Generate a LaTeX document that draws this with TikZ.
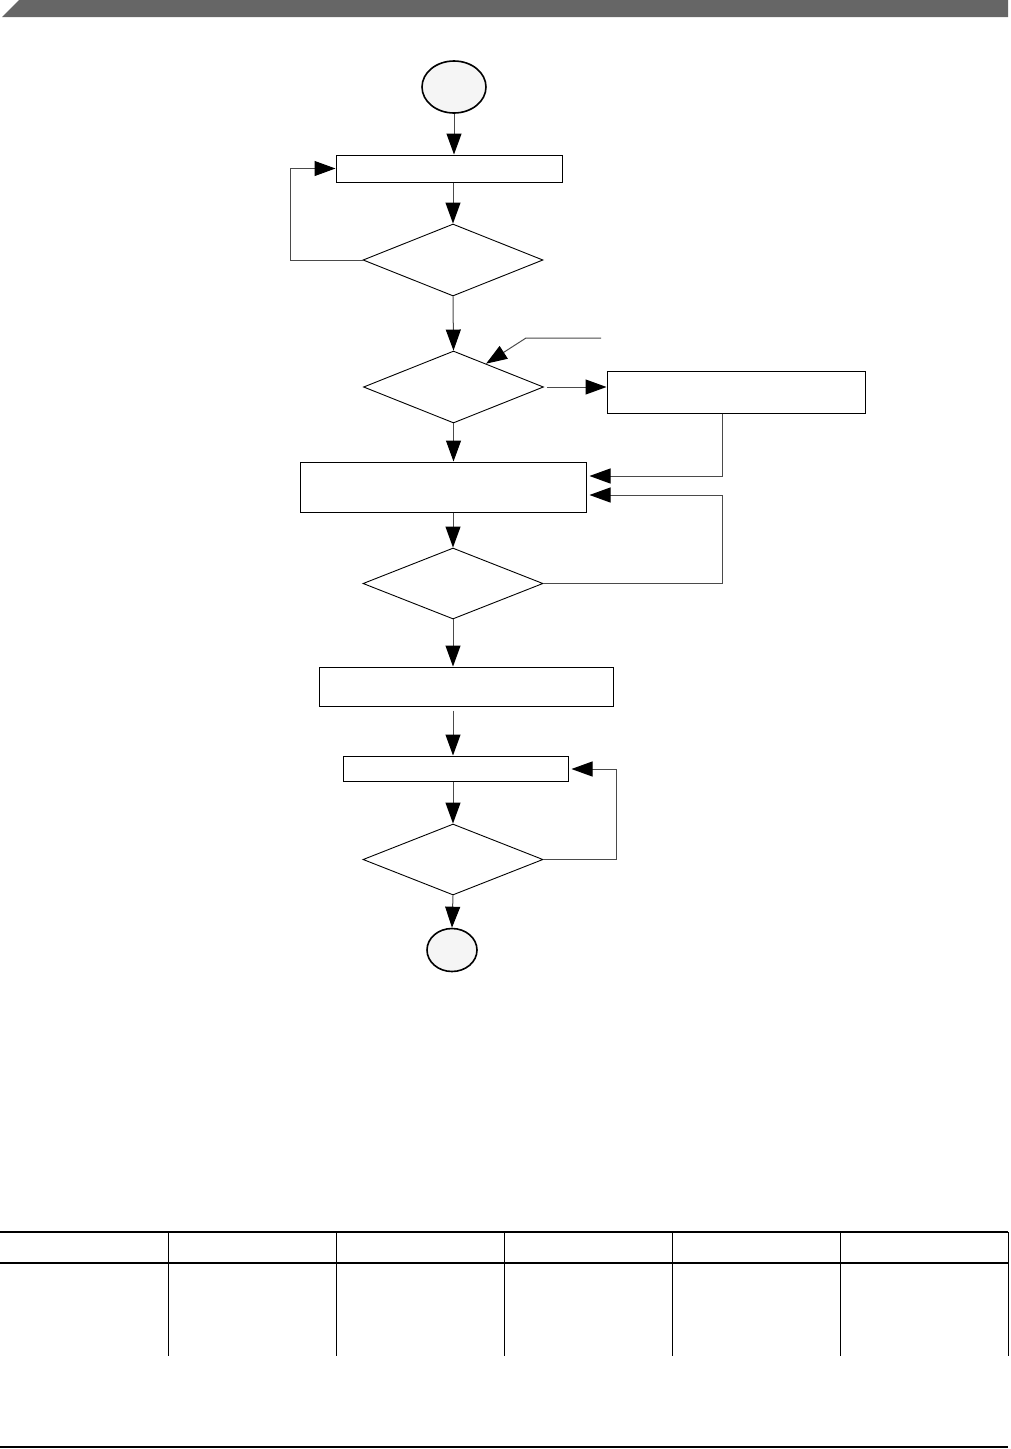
\documentclass[tikz,border=0pt]{standalone}
\usepackage{tikz}
\usetikzlibrary{arrows.meta, shapes.geometric, positioning, calc}
\definecolor{band}{HTML}{666666}
\definecolor{wire}{HTML}{4A4A4A}
\definecolor{cap}{HTML}{F5F5F5}

\begin{document}
\begin{tikzpicture}[
  x=1pt, y=-1pt,
  proc/.style={draw, line width=1pt, rectangle, inner sep=0pt},
  test/.style={draw, line width=0.9pt, diamond, inner sep=0pt,
               minimum width=180pt, minimum height=72pt},
  term/.style={draw, line width=1.6pt, ellipse, fill=cap, inner sep=0pt},
  arrow/.style={-{Triangle[length=21pt, width=15pt, color=black]}, line width=1pt, wire},
  rule/.style={line width=1.4pt, black}
]
  \useasboundingbox (0,0) rectangle (1010,1449);

  % page header band
  \fill[band] (19,0) -- (1008,0) -- (1008,17) -- (2,17) -- cycle;

  \node[term, minimum width=64pt, minimum height=52pt] (start) at (454,87) {};
  \node[proc, minimum width=226pt, minimum height=27pt] (b1) at (449,168.5) {};
  \node[test] (d1) at (453,260) {};
  \node[test] (d2) at (453.5,387) {};
  \node[proc, minimum width=258pt, minimum height=42pt] (b2) at (736,392) {};
  \node[proc, minimum width=286pt, minimum height=50pt] (b3) at (443,487) {};
  \node[test, minimum height=71pt] (d3) at (453,583.5) {};
  \node[proc, minimum width=294pt, minimum height=39pt] (b4) at (466,686.5) {};
  \node[proc, minimum width=225pt, minimum height=25pt] (b5) at (455.5,768.5) {};
  \node[test, minimum height=71pt] (d4) at (453,859.5) {};
  \node[term, minimum width=50pt, minimum height=43pt] (stop) at (452,950) {};

  \coordinate (ptr) at (601,338);
  \coordinate (r1) at (722,476);
  \coordinate (r2) at (722,495);
  \coordinate (r3) at (616,769);

  \draw[arrow] (start.south) -- (start.south |- b1.north);
  \draw[arrow] (d1.north |- b1.south) -- (d1.north);
  \draw[arrow] (d1.west) -- ++(-72,0) |- (b1.west);
  \draw[arrow] (d1.south) -- (d2.north);
  \draw[arrow] (ptr) -- ++(-75,0) -- ($(d2.north)!0.36!(d2.east)$);
  \draw[arrow, shorten <=3pt] (d2.east) -- (d2.east -| b2.west);
  \draw[arrow, shorten >=3pt] (b2.south -| r1) -- (r1) -- (r1 -| b3.east);
  \draw[arrow, shorten >=3pt] (d3.east) -| (r2) -- (r2 -| b3.east);
  \draw[arrow] (d2.south) -- (d2.south |- b3.north);
  \draw[arrow] (d3.north |- b3.south) -- (d3.north);
  \draw[arrow] (d3.south) -- (d3.south |- b4.north);
  \draw[arrow, shorten <=4pt] (d4.north |- b4.south) -- (d4.north |- b5.north);
  \draw[arrow] (d4.north |- b5.south) -- (d4.north);
  \draw[arrow, shorten >=3pt] (d4.east) -| (r3) -- (r3 -| b5.east);
  \draw[arrow] (d4.south) -- (stop.north);

  % table rules
  \draw[rule] (0,1232) -- (1008,1232);
  \draw[rule] (0,1263) -- (1008,1263);
  \foreach \k in {1,...,6}
    \draw[line width=1pt] (168*\k,1232) -- (168*\k,1356);
  \draw[rule] (0,1447) -- (1008,1447);
\end{tikzpicture}
\end{document}
